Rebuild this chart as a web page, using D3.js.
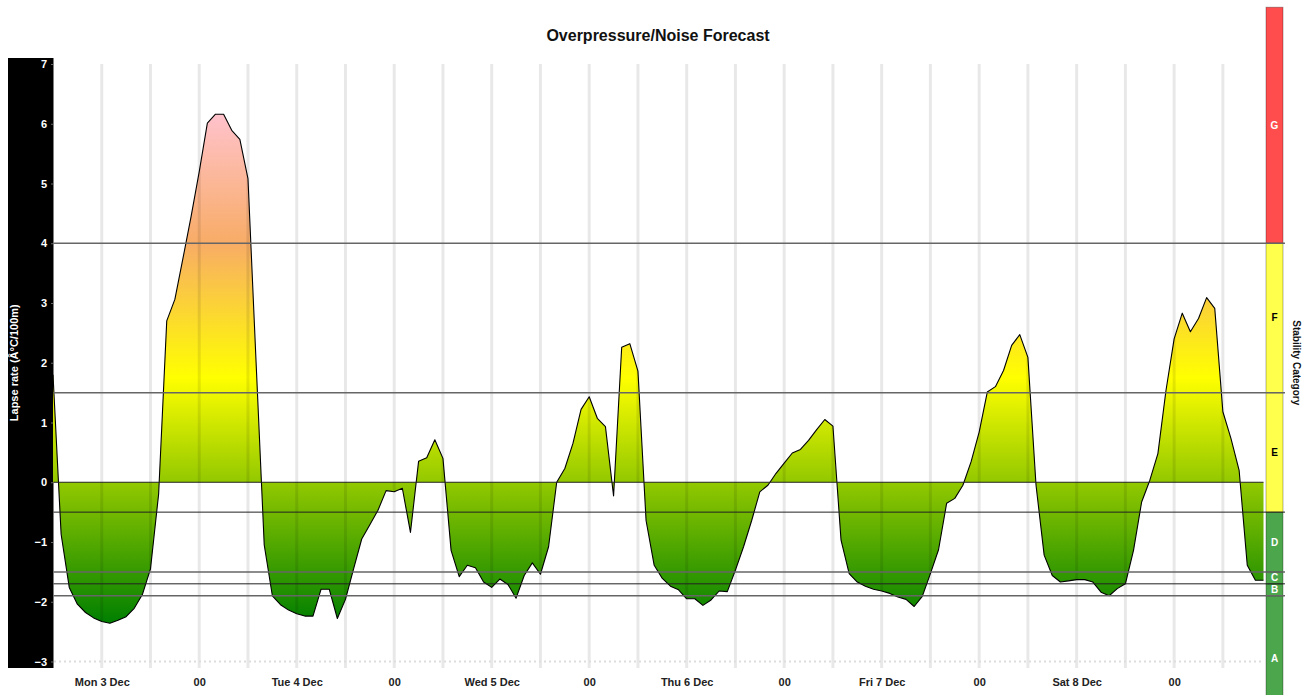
<!DOCTYPE html>
<html><head><meta charset="utf-8">
<script src="https://cdn.jsdelivr.net/npm/d3@7"></script>
<style>body{margin:0;background:#fff;} svg{display:block;font-family:"Liberation Sans",Arial,Helvetica,sans-serif;}</style>
</head><body><svg id="c" width="1308" height="695"></svg>
<script>
// ---------------- data ----------------
const chartTitle = "Overpressure/Noise Forecast";
const yAxisTitle = "Lapse rate (Â°C/100m)";
const rightTitle = "Stability Category";
const firstHour = "2018-12-03T06:00:00Z"; // hourly series starts Mon 3 Dec 06:00
const lapseRate = [
  1.80,-0.87,-1.76,-2.04,-2.18,-2.27,-2.33,-2.36,-2.31,-2.25,-2.11,-1.88,-1.45,-0.20,
  2.70,3.06,3.75,4.45,5.20,6.01,6.16,6.16,5.89,5.74,5.08,2.00,-1.05,-1.90,-2.05,-2.14,
  -2.20,-2.24,-2.24,-1.79,-1.79,-2.28,-1.96,-1.45,-0.95,-0.71,-0.47,-0.14,-0.16,-0.10,
  -0.84,0.35,0.41,0.71,0.40,-1.14,-1.58,-1.39,-1.43,-1.67,-1.76,-1.62,-1.71,-1.94,
  -1.56,-1.35,-1.54,-1.08,0.00,0.23,0.65,1.22,1.43,1.07,0.93,-0.23,2.26,2.32,1.86,
  -0.64,-1.39,-1.61,-1.74,-1.80,-1.95,-1.95,-2.06,-1.97,-1.82,-1.83,-1.47,-1.08,-0.64,
  -0.16,-0.05,0.15,0.32,0.49,0.55,0.70,0.88,1.05,0.94,-0.97,-1.53,-1.67,-1.74,-1.79,
  -1.82,-1.86,-1.92,-1.96,-2.08,-1.91,-1.53,-1.13,-0.35,-0.27,-0.05,0.34,0.84,1.51,
  1.60,1.87,2.29,2.47,2.09,-0.05,-1.22,-1.56,-1.67,-1.65,-1.63,-1.63,-1.67,-1.84,-1.90,
  -1.78,-1.70,-1.14,-0.33,0.03,0.48,1.54,2.40,2.83,2.52,2.74,3.09,2.91,1.18,0.73,0.20,
  -1.39,-1.64,-1.64
];
const yTickValues = [-3,-2,-1,0,1,2,3,4,5,6,7];
const xTickLabels = ["Mon 3 Dec","00","Tue 4 Dec","00","Wed 5 Dec","00","Thu 6 Dec","00","Fri 7 Dec","00","Sat 8 Dec","00"];
const stabilityCats  = ["A","B","C","D","E","F","G"];
const stabilityLower = [-4,-1.9,-1.7,-1.5,-0.5,1.5,4];
const stabilityUpper = [-1.9,-1.7,-1.5,-0.5,1.5,4,7.95];
const stabilityColor = ["#008000","#008000","#008000","#008000","#ffff00","#ffff00","#ff0000"];
const stabilityText  = ["#fff","#fff","#fff","#fff","#000","#000","#fff"];
const boundaryLines  = [4,1.5,0,-0.5,-1.5,-1.7,-1.9];

// ---------------- layout ----------------
const svg = d3.select("#c");
const t0 = new Date(firstHour);
const series = lapseRate.map((v,i)=>({t:d3.utcHour.offset(t0,i), v}));
const tEnd = series[series.length-1].t;

const x = d3.scaleUtc().domain([t0, tEnd]).range([53, 1263.5]);
const y = d3.scaleLinear().domain([-3,7]).range([661.5, 64]);

// gradient
const defs = svg.append("defs");
const vmax = d3.max(lapseRate), vmin = d3.min(lapseRate);
const grad = defs.append("linearGradient").attr("id","g").attr("gradientUnits","userSpaceOnUse")
  .attr("x1",0).attr("x2",0).attr("y1",y(vmax)).attr("y2",y(vmin));
const gStops = [[vmax,"#ffc2cc"],[4.0,"#f8ac66"],[1.75,"#ffff00"],[vmin,"#007f00"]];
gStops.forEach(([v,c])=>grad.append("stop").attr("offset",(y(v)-y(vmax))/(y(vmin)-y(vmax))).attr("stop-color",c));

// y axis background
svg.append("rect").attr("x",8).attr("y",58).attr("width",45.5).attr("height",610).attr("fill","#000");

// area + line
svg.append("path").datum(series)
  .attr("d", d3.area().x(d=>x(d.t)).y0(y(0)).y1(d=>y(d.v)))
  .attr("fill","url(#g)");
svg.append("path").datum(series)
  .attr("d", d3.line().x(d=>x(d.t)).y(d=>y(d.v)))
  .attr("fill","none").attr("stroke","#000").attr("stroke-width",1.1).attr("stroke-linejoin","round");

// vertical 6-hour grid lines
const gridTimes = d3.utcHour.every(6).range(d3.utcHour.offset(t0,6), tEnd);
svg.append("g").selectAll("line").data(gridTimes).join("line")
  .attr("x1",d=>x(d)).attr("x2",d=>x(d)).attr("y1",64).attr("y2",668)
  .attr("stroke","rgba(0,0,0,0.09)").attr("stroke-width",3);

// dotted bottom axis line
svg.append("line").attr("x1",54).attr("x2",x(tEnd)).attr("y1",y(-3)).attr("y2",y(-3))
  .attr("stroke","#ddd").attr("stroke-width",2).attr("stroke-dasharray","2,3");

// stability bar
const sb = svg.append("g");
stabilityCats.forEach((c,i)=>{
  sb.append("rect").attr("x",1266).attr("width",17)
    .attr("y",y(stabilityUpper[i])).attr("height",y(stabilityLower[i])-y(stabilityUpper[i]))
    .attr("fill",stabilityColor[i]).attr("fill-opacity",0.7)
    .attr("stroke","rgba(0,0,0,0.3)").attr("stroke-width",1);
});
stabilityCats.forEach((c,i)=>{
  sb.append("text").attr("x",1274.5).attr("y",(y(stabilityUpper[i])+y(stabilityLower[i]))/2+3.5)
    .attr("text-anchor","middle").attr("font-size",10).attr("font-weight","bold")
    .attr("fill",stabilityText[i]).text(c);
});

// horizontal boundary lines
svg.append("g").selectAll("line").data(boundaryLines).join("line")
  .attr("x1",53.5).attr("x2",d=>d===0?x(tEnd):1285)
  .attr("y1",d=>y(d)).attr("y2",d=>y(d))
  .attr("stroke",d=>[4,1.5,-1.5,-1.9].includes(d)?"#666":"#222")
  .attr("stroke-width",d=>[4,1.5,-1.5,-1.9].includes(d)?1.5:1);

// y axis ticks
const yAxis = svg.append("g").attr("transform","translate(53,0)")
  .call(d3.axisLeft(y).tickValues(yTickValues).tickSize(2).tickPadding(4).tickFormat(d3.format("d")));
yAxis.select(".domain").remove();
yAxis.selectAll("line").attr("stroke","#666");
yAxis.selectAll("text").attr("fill","#fff").attr("font-size",11).attr("font-weight","bold")
  .attr("font-family","Liberation Sans, Arial, sans-serif");

// x axis labels
const xTicks = d3.utcHour.every(12).range(d3.utcHour.offset(t0,6), tEnd);
const xAxis = svg.append("g").attr("transform","translate(0,667)")
  .call(d3.axisBottom(x).tickValues(xTicks).tickSize(0).tickPadding(11)
    .tickFormat((d,i)=>xTickLabels[i]));
xAxis.select(".domain").remove();
xAxis.selectAll("text").attr("fill","#222").attr("font-size",11).attr("font-weight","bold")
  .attr("font-family","Liberation Sans, Arial, sans-serif");

// titles
svg.append("text").attr("x",658).attr("y",41).attr("text-anchor","middle")
  .attr("font-size",16).attr("font-weight","bold").attr("fill","#111").text(chartTitle);
svg.append("text").attr("transform",`translate(18,${(y(7)+y(-3))/2}) rotate(-90)`)
  .attr("text-anchor","middle").attr("font-size",11).attr("font-weight","bold").attr("fill","#fff").text(yAxisTitle);
svg.append("text").attr("transform",`translate(1293,${(y(7)+y(-3))/2}) rotate(90)`)
  .attr("text-anchor","middle").attr("font-size",10).attr("font-weight","bold").attr("fill","#111").text(rightTitle);
</script></body></html>
